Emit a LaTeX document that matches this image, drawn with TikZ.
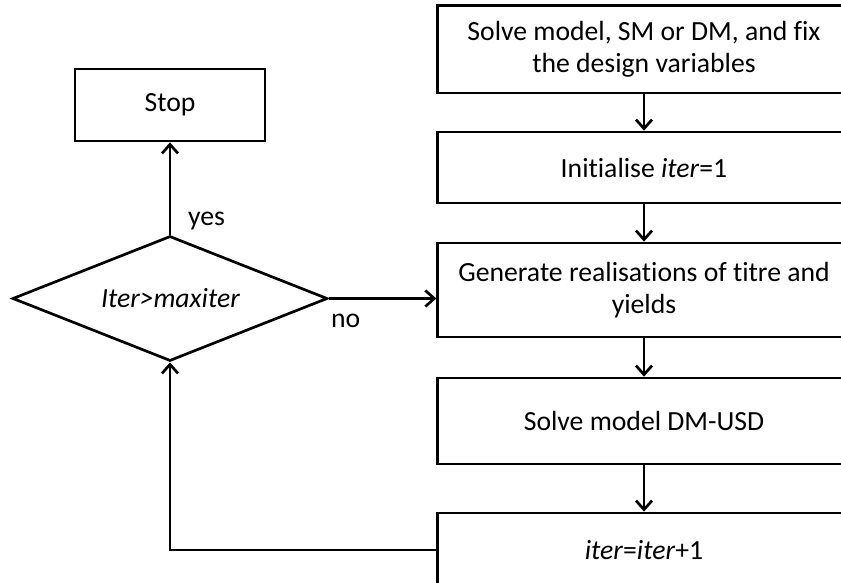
\documentclass[tikz,border=0pt]{standalone}
\usepackage{fontspec}
\setmainfont{Carlito}[Ligatures={NoCommon}]
\usetikzlibrary{shapes.geometric,arrows.meta}

\tikzset{
  flow/.style={line width=2.7pt, -{Straight Barb[length=9pt,width=16pt,line width=2.7pt]}},
  procbox/.style={draw, line width=2.7pt, rectangle, align=center,
    minimum width=412.6pt, inner sep=0pt},
  stopbox/.style={draw, line width=2.7pt, rectangle, align=center,
    minimum width=190pt, minimum height=72pt, inner sep=0pt},
  decision/.style={draw, line width=2.7pt, diamond, inner sep=0pt,
    minimum width=315pt, minimum height=125pt},
  lbl/.style={inner sep=0pt},
}

\begin{document}
\begin{tikzpicture}[x=1pt, y=-1pt,
  every node/.style={font=\fontsize{27.7}{32.5}\selectfont}]
\useasboundingbox (0,0) rectangle (841,583);
\clip (0,0) rectangle (841,583);

% main column of process steps
\node[procbox, minimum height=87.3pt] (solve) at (644,49.3)
  {Solve model, SM or DM, and fix\\the design variables};
\node[procbox, minimum height=71pt] (init) at (644,167.5)
  {Initialise \textit{iter}=1};
\node[procbox, minimum height=94pt] (gen) at (644,290)
  {Generate realisations of titre and\\yields};
\node[procbox, minimum height=86pt] (usd) at (644,421)
  {Solve model DM-USD};
\node[procbox, minimum height=74pt] (incr) at (644,550)
  {\textit{iter}=\textit{iter}+1};

% termination test and stop
\node[decision] (test) at (170,298.5) {};
\node[lbl, anchor=base] at (170.5,307) {\textit{Iter>maxiter}};
\node[stopbox] (stop) at (170,105) {Stop};

% connectors
\draw[flow] (solve.south) -- (init.north);
\draw[flow] (init.south) -- (gen.north);
\draw[flow] (gen.south) -- (usd.north);
\draw[flow] (usd.south) -- (incr.north);
\draw[flow] (test.north) -- (stop.south);
\draw[flow] (test.east) -- (test.east -| gen.west);
\draw[flow] (incr.west) -- (incr.west -| test.south) -- (test.south);

% branch labels
\node[lbl, anchor=base west] at (188,225) {yes};
\node[lbl, anchor=base west] at (331,327) {no};
\end{tikzpicture}
\end{document}
